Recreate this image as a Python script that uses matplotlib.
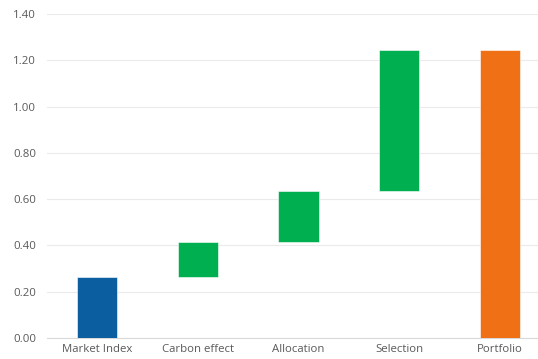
import matplotlib.pyplot as plt
import numpy as np

plt.rcParams['font.family'] = ['Open Sans', 'DejaVu Sans']

categories = ['Market Index', 'Carbon effect', 'Allocation', 'Selection', 'Portfolio']
market_index = 0.265
effects = [0.15, 0.22, 0.61]
portfolio = 1.245

# waterfall: floating steps between index and portfolio
steps = [market_index] + effects
bottoms = [0] + list(np.cumsum(steps)[:-1]) + [0]
heights = steps + [portfolio]
colors = ['#0B5FA1', '#00AF50', '#00AF50', '#00AF50', '#F07015']

fig = plt.figure(figsize=(5.38, 3.59), dpi=100)
ax = fig.add_axes([47 / 538, 21 / 359, 503 / 538, 324 / 359])

x = np.arange(len(categories))
ax.bar(x, heights, bottom=bottoms, width=0.4, color=colors,
       edgecolor='white', linewidth=0.4, zorder=3)

ax.set_xlim(-0.5, 4.5)
ax.set_ylim(0, 1.4)
ax.set_yticks(np.arange(0, 1.41, 0.2))
ax.set_yticklabels(['%.2f' % v for v in np.arange(0, 1.41, 0.2)])
ax.set_xticks(x)
ax.set_xticklabels(categories)

ax.grid(axis='y', color='#EBEBEB', linewidth=0.8, zorder=0)
for s in ['top', 'right', 'left']:
    ax.spines[s].set_visible(False)
ax.spines['bottom'].set_color('#D9D9D9')
ax.spines['bottom'].set_linewidth(0.8)
ax.tick_params(axis='both', length=0, labelsize=8.2, colors='#595959')
ax.tick_params(axis='y', pad=8)
ax.tick_params(axis='x', pad=4)

fig.savefig('out.png', dpi=100)
